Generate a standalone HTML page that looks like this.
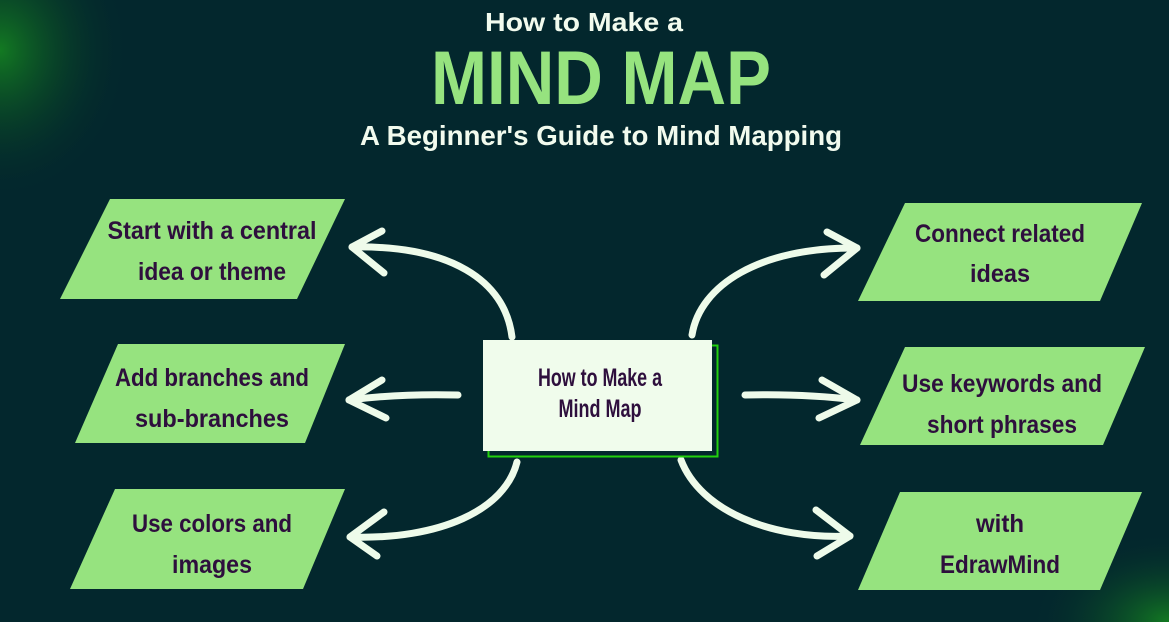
<!DOCTYPE html>
<html><head><meta charset="utf-8"><style>
html,body{margin:0;padding:0;width:1169px;height:622px;overflow:hidden;background:#03272d}
svg{display:block}
.t{font-family:"Liberation Sans Narrow","Liberation Sans",sans-serif;font-weight:bold;fill:#2e0f3d;font-size:25px;text-anchor:middle}
.h{font-family:"Liberation Sans",sans-serif;font-weight:bold;text-anchor:middle}
.a{fill:none;stroke:#eefbea;stroke-width:7;stroke-linecap:round;stroke-linejoin:round}
</style></head><body>
<svg width="1169" height="622" viewBox="0 0 1169 622">
<defs>
<radialGradient id="g1" cx="0" cy="0" r="1" gradientUnits="userSpaceOnUse" gradientTransform="translate(0,50) scale(130,150)">
<stop offset="0" stop-color="#137a22"/><stop offset="0.5" stop-color="#0a4a26" stop-opacity="0.6"/><stop offset="1" stop-color="#03272d" stop-opacity="0"/></radialGradient>
<radialGradient id="g2" cx="0" cy="0" r="1" gradientUnits="userSpaceOnUse" gradientTransform="translate(1169,622) scale(140,90)">
<stop offset="0" stop-color="#137a22"/><stop offset="1" stop-color="#03272d" stop-opacity="0"/></radialGradient>
</defs>
<rect width="1169" height="622" fill="#03272d"/>
<rect width="1169" height="622" fill="url(#g1)"/>
<rect width="1169" height="622" fill="url(#g2)"/>

<text class="h" x="584" y="31" font-size="26" fill="#f2fbee" textLength="198" lengthAdjust="spacingAndGlyphs">How to Make a</text>
<text class="h" x="601" y="104" font-size="76" fill="#96e37f" textLength="340" lengthAdjust="spacingAndGlyphs">MIND MAP</text>
<text class="h" x="601" y="145" font-size="28" fill="#f2fbee" textLength="482" lengthAdjust="spacingAndGlyphs">A Beginner's Guide to Mind Mapping</text>

<g fill="#96e37f">
<polygon points="110,199 345,199 297,299 60,299"/>
<polygon points="118,344 345,344 305,443 75,443"/>
<polygon points="115,489 345,489 303,589 70,589"/>
<polygon points="905,203 1142,203 1100,301 858,301"/>
<polygon points="905,347 1145,347 1103,445 860,445"/>
<polygon points="900,492 1142,492 1100,590 858,590"/>
</g>
<g lengthAdjust="spacingAndGlyphs">
<text class="t" x="212" y="239" textLength="209" lengthAdjust="spacingAndGlyphs">Start with a central</text>
<text class="t" x="212" y="280" textLength="148" lengthAdjust="spacingAndGlyphs">idea or theme</text>
<text class="t" x="212" y="386" textLength="194" lengthAdjust="spacingAndGlyphs">Add branches and</text>
<text class="t" x="212" y="427" textLength="154" lengthAdjust="spacingAndGlyphs">sub-branches</text>
<text class="t" x="212" y="532" textLength="160" lengthAdjust="spacingAndGlyphs">Use colors and</text>
<text class="t" x="212" y="573" textLength="80" lengthAdjust="spacingAndGlyphs">images</text>
<text class="t" x="1000" y="242" textLength="170" lengthAdjust="spacingAndGlyphs">Connect related</text>
<text class="t" x="1000" y="282" textLength="60" lengthAdjust="spacingAndGlyphs">ideas</text>
<text class="t" x="1002" y="392" textLength="200" lengthAdjust="spacingAndGlyphs">Use keywords and</text>
<text class="t" x="1002" y="433" textLength="150" lengthAdjust="spacingAndGlyphs">short phrases</text>
<text class="t" x="1000" y="532" textLength="48" lengthAdjust="spacingAndGlyphs">with</text>
<text class="t" x="1000" y="573" textLength="120" lengthAdjust="spacingAndGlyphs">EdrawMind</text>
</g>

<path class="a" d="M512,337 C505,280 450,245 352,247"/>
<path class="a" d="M382,231 L352,247 L384,273"/>
<path class="a" d="M458,395 C420,394 380,396 349,400"/>
<path class="a" d="M382,380 L349,400 L386,418"/>
<path class="a" d="M517,462 C505,510 440,540 350,537"/>
<path class="a" d="M384,512 L350,537 L377,556"/>
<path class="a" d="M692,335 C700,285 760,247 857,248"/>
<path class="a" d="M827,232 L857,248 L824,275"/>
<path class="a" d="M745,395 C785,394 825,396 857,400"/>
<path class="a" d="M822,380 L857,400 L819,418"/>
<path class="a" d="M681,460 C700,510 770,540 850,536"/>
<path class="a" d="M816,510 L850,536 L817,556"/>

<rect x="488.5" y="345.5" width="229" height="111" fill="none" stroke="#22d10d" stroke-width="2"/>
<rect x="483" y="340" width="229" height="111" fill="#f0fcec"/>
<text class="t" x="600" y="386" font-size="19" textLength="124" lengthAdjust="spacingAndGlyphs">How to Make a</text>
<text class="t" x="600" y="417" font-size="19" textLength="83" lengthAdjust="spacingAndGlyphs">Mind Map</text>
</svg>
</body></html>
